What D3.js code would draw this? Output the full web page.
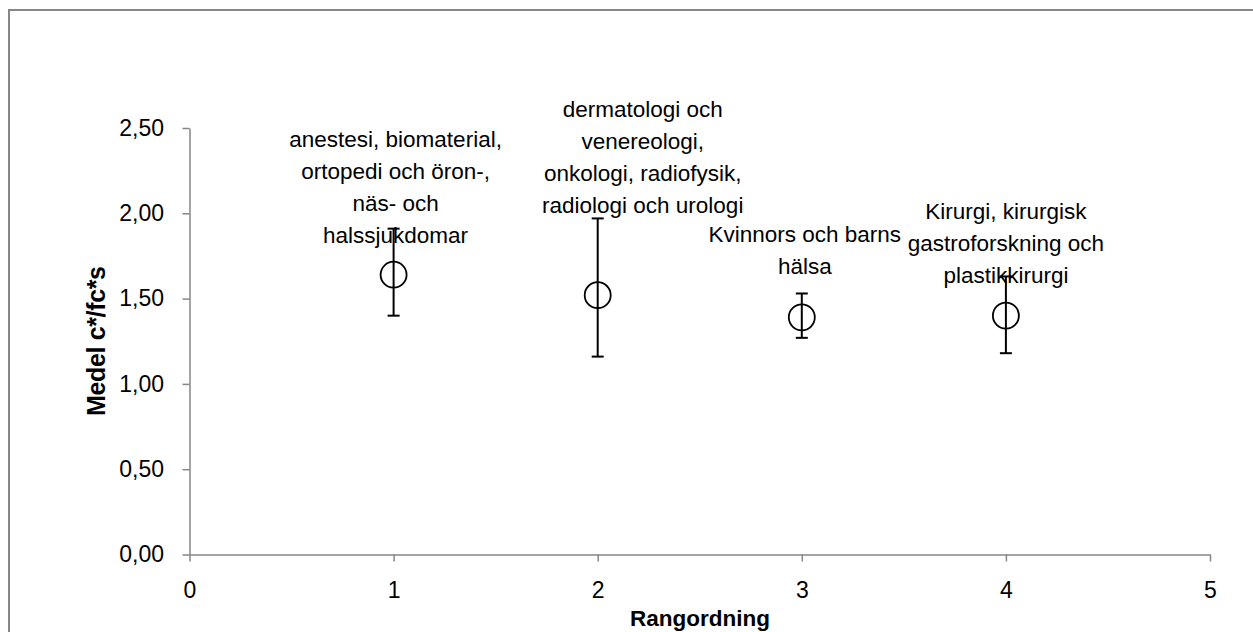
<!DOCTYPE html>
<html>
<head>
<meta charset="utf-8">
<script src="https://cdn.jsdelivr.net/npm/d3@7"></script>
<style>
  html, body { margin: 0; padding: 0; background: #fff; overflow: hidden; }
  svg { display: block; font-family: "Liberation Sans", Arial, sans-serif; }
</style>
</head>
<body>
<div id="chart"></div>
<script>
// data
const ranks = [1, 2, 3, 4];
const means = [1.64, 1.52, 1.39, 1.40];
const errHigh = [1.91, 1.97, 1.53, 1.63];
const errLow = [1.40, 1.16, 1.27, 1.18];
const pointLabels = [
  ['anestesi, biomaterial,', 'ortopedi och öron-,', 'näs- och', 'halssjukdomar'],
  ['dermatologi och', 'venereologi,', 'onkologi, radiofysik,', 'radiologi och urologi'],
  ['Kvinnors och barns', 'hälsa'],
  ['Kirurgi, kirurgisk', 'gastroforskning och', 'plastikkirurgi']
];
const xTicks = [0, 1, 2, 3, 4, 5];
const yTicks = [0, 0.5, 1, 1.5, 2, 2.5];
const xTitle = 'Rangordning';
const yTitle = 'Medel c*/fc*s';

// label placement (pixels, relative to the marker)
const labelShift = [[2, -32], [45, -82], [3, -43], [0, -33]];

const width = 1253, height = 632;
const axisColor = '#868686';
const fontSize = 23;
const labelSize = 22.5;
const lineGap = 32;

const svg = d3.select('#chart').append('svg').attr('width', width).attr('height', height);

// outer chart border (runs off the right and bottom edge)
svg.append('rect')
  .attr('x', 9).attr('y', 10)
  .attr('width', 1300).attr('height', 700)
  .attr('fill', 'none')
  .attr('stroke', axisColor)
  .attr('stroke-width', 2);

const x = d3.scaleLinear().domain([0, 5]).range([189.5, 1210]);
const y = d3.scaleLinear().domain([0, 2.5]).range([554.5, 128]);

const sv = d3.formatLocale({ decimal: ',', thousands: ' ', grouping: [3], currency: ['', ' kr'] });

const yAxis = svg.append('g')
  .attr('transform', `translate(${x(0)},0)`)
  .call(d3.axisLeft(y).tickValues(yTicks).tickFormat(sv.format('.2f')).tickSize(7).tickPadding(18.5).tickSizeOuter(0));

const xAxis = svg.append('g')
  .attr('transform', `translate(0,${y(0)})`)
  .call(d3.axisBottom(x).tickValues(xTicks).tickFormat(d3.format('d')).tickSize(7).tickPadding(20).tickSizeOuter(0));

[xAxis, yAxis].forEach(g => {
  g.select('.domain').attr('stroke', axisColor).attr('stroke-width', 1.5);
  g.selectAll('.tick line').attr('stroke', axisColor).attr('stroke-width', 1.5);
  g.selectAll('.tick text')
    .attr('fill', '#000')
    .style('font-size', fontSize + 'px')
    .style('font-family', '"Liberation Sans", Arial, sans-serif');
});

// axis titles
svg.append('text')
  .attr('x', 700).attr('y', 626)
  .attr('text-anchor', 'middle')
  .style('font-size', '22.5px')
  .style('font-weight', 'bold')
  .text(xTitle);

svg.append('text')
  .attr('transform', 'translate(105,341) rotate(-90)')
  .attr('text-anchor', 'middle')
  .attr('textLength', 150)
  .attr('lengthAdjust', 'spacing')
  .style('font-size', '25px')
  .style('font-weight', 'bold')
  .text(yTitle);

const pts = ranks.map((r, i) => ({ r, m: means[i], hi: errHigh[i], lo: errLow[i], lines: pointLabels[i], shift: labelShift[i] }));

// labels
pts.forEach(d => {
  const n = d.lines.length;
  const t = svg.append('text')
    .attr('text-anchor', 'middle')
    .style('font-size', labelSize + 'px')
    .attr('fill', '#000');
  d.lines.forEach((line, i) => {
    t.append('tspan')
      .attr('x', x(d.r) + d.shift[0])
      .attr('y', y(d.m) + d.shift[1] - (n - 1 - i) * lineGap)
      .text(line);
  });
});

// markers
svg.append('g')
  .selectAll('circle')
  .data(pts)
  .enter()
  .append('circle')
  .attr('cx', d => x(d.r))
  .attr('cy', d => y(d.m))
  .attr('r', 13)
  .attr('fill', 'none')
  .attr('stroke', '#000')
  .attr('stroke-width', 1.8);

// error bars
const eb = svg.append('g').attr('stroke', '#000').attr('stroke-width', 2);
eb.selectAll('line.v')
  .data(pts)
  .enter()
  .append('line')
  .attr('class', 'v')
  .attr('x1', d => x(d.r)).attr('x2', d => x(d.r))
  .attr('y1', d => y(d.hi)).attr('y2', d => y(d.lo));

['hi', 'lo'].forEach(k => {
  eb.selectAll('line.' + k)
    .data(pts)
    .enter()
    .append('line')
    .attr('class', k)
    .attr('x1', d => x(d.r) - 6).attr('x2', d => x(d.r) + 6)
    .attr('y1', d => y(d[k])).attr('y2', d => y(d[k]));
});
</script>
</body>
</html>
